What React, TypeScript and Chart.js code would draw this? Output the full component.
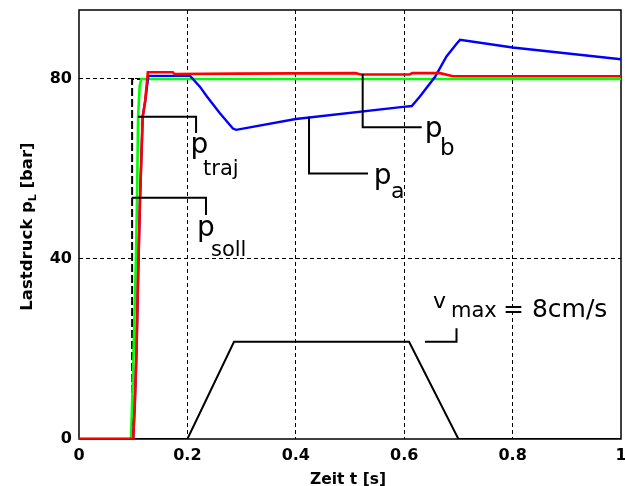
import React, { useEffect, useRef } from 'react';
import { Chart, registerables } from 'chart.js';

Chart.register(...registerables);

// ---- data (time in s, pressure in bar) ----
const pSollT = [0, 0.098, 0.098, 1];
const pSollV = [0, 0, 80, 80];

const pTrajT = [0, 0.096, 0.1, 0.105, 0.107, 0.109, 0.112, 0.115, 1];
const pTrajV = [0, 0, 16, 40, 53, 71.6, 78.5, 80, 80];

const pBT = [0, 0.1, 0.103, 0.106, 0.109, 0.1125, 0.1175, 0.122, 0.127, 0.173, 0.176, 0.29, 0.51, 0.52, 0.61, 0.615, 0.666, 0.69, 1];
const pBV = [0, 0, 8, 19, 36, 53, 71.6, 75, 81.5, 81.5, 81.1, 81.2, 81.3, 81.0, 81.0, 81.3, 81.3, 80.6, 80.6];

const pAT = [0, 0.1, 0.103, 0.106, 0.109, 0.1125, 0.1175, 0.122, 0.128, 0.205, 0.223, 0.236, 0.26, 0.284, 0.29, 0.4, 0.598, 0.614, 0.629, 0.657, 0.678, 0.697, 0.703, 0.8, 1];
const pAV = [0, 0, 8, 19, 36, 53, 71.6, 75, 80.7, 80.7, 78.3, 76.1, 72.4, 69.0, 68.7, 71.1, 73.8, 74.0, 76.1, 80.5, 85.0, 87.9, 88.7, 87.0, 84.4];

const velT = [0, 0.2, 0.286, 0.609, 0.7, 1];
const velV = [0, 0, 21.6, 21.6, 0, 0];

const xTicks = [0, 0.2, 0.4, 0.6, 0.8, 1];
const xTickLabels = ['0', '0.2', '0.4', '0.6', '0.8', '1'];
const yTicks = [0, 40, 80];
const yTickLabels = ['0', '40', '80'];

// ---- annotation leaders (data coordinates) ----
const leaderTraj = [[0.109, 71.6], [0.216, 71.6], [0.216, 68.0]];
const leaderSoll = [[0.0972, 53.6], [0.2343, 53.6], [0.2343, 49.8]];
const leaderA = [[0.4244, 71.6], [0.4244, 59.0], [0.5332, 59.0]];
const leaderB = [[0.5234, 81.1], [0.5234, 69.3], [0.6323, 69.3]];
const leaderV = [[0.6384, 21.6], [0.6965, 21.6], [0.6965, 24.6]];

// label texts: [text, x, y(baseline)]
const labelTraj = [['p', 0.2055, 63.6], ['traj', 0.2288, 58.7]];
const labelSoll = [['p', 0.2175, 45.1], ['soll', 0.2435, 40.7]];
const labelA = [['p', 0.544, 56.7], ['a', 0.5756, 53.6]];
const labelB = [['p', 0.638, 67.2], ['b', 0.6661, 63.1]];
const labelV = [['v', 0.6531, 29.1], ['max', 0.6863, 27.1], ['= 8cm/s', 0.7823, 27.1]];

const xTitle = 'Zeit t [s]';
const yTitleParts = ['Lastdruck p', 'L', ' [bar]'];

const FONT = '"DejaVu Sans", "Liberation Sans", Arial, sans-serif';

const toXY = (t: number[], v: number[]) => t.map((x, i) => ({ x, y: v[i] }));

const annotPlugin = {
  id: 'annot',
  beforeDatasetsDraw(chart: any) {
    const { ctx, chartArea: a } = chart;
    ctx.save();
    ctx.strokeStyle = '#000';
    ctx.lineWidth = 1.5;
    ctx.setLineDash([]);
    ctx.strokeRect(a.left, a.top, a.right - a.left, a.bottom - a.top);
    ctx.restore();
  },
  afterDatasetsDraw(chart: any) {
    const { ctx } = chart;
    const xs = chart.scales.x;
    const ys = chart.scales.y;
    ctx.save();
    ctx.strokeStyle = '#000';
    ctx.lineWidth = 2;
    ctx.setLineDash([]);
    ctx.lineJoin = 'miter';
    [leaderTraj, leaderSoll, leaderA, leaderB, leaderV].forEach((pts) => {
      ctx.beginPath();
      pts.forEach(([x, y], i) => {
        const px = xs.getPixelForValue(x);
        const py = ys.getPixelForValue(y);
        if (i === 0) ctx.moveTo(px, py);
        else ctx.lineTo(px, py);
      });
      ctx.stroke();
    });
    ctx.fillStyle = '#000';
    ctx.textAlign = 'left';
    ctx.textBaseline = 'alphabetic';
    const draw = (parts: any[], sizes: number[]) => {
      parts.forEach(([txt, x, y]: any, i: number) => {
        ctx.font = `${sizes[i]}px ${FONT}`;
        ctx.fillText(txt, xs.getPixelForValue(x), ys.getPixelForValue(y));
      });
    };
    draw(labelTraj, [28, 21]);
    draw(labelSoll, [28, 21]);
    draw(labelA, [28, 22]);
    draw(labelB, [28, 23]);
    draw(labelV, [22, 21, 25]);
    ctx.restore();
  },
  afterDraw(chart: any) {
    const { ctx, chartArea: a } = chart;
    ctx.save();
    ctx.fillStyle = '#000';
    ctx.textBaseline = 'alphabetic';
    // x title
    ctx.font = `bold 15.5px ${FONT}`;
    ctx.textAlign = 'center';
    ctx.fillText(xTitle, (a.left + a.right) / 2 - 2, a.bottom + 45);
    // y title
    ctx.textAlign = 'left';
    const f1 = `bold 16.5px ${FONT}`;
    const f2 = `bold 11px ${FONT}`;
    ctx.font = f1;
    const w0 = ctx.measureText(yTitleParts[0]).width;
    const w2 = ctx.measureText(yTitleParts[2]).width;
    ctx.font = f2;
    const w1 = ctx.measureText(yTitleParts[1]).width;
    const total = w0 + w1 + w2;
    ctx.translate(a.left - 47, (a.top + a.bottom) / 2 + 2);
    ctx.rotate(-Math.PI / 2);
    let x = -total / 2;
    ctx.font = f1;
    ctx.fillText(yTitleParts[0], x, 0);
    x += w0;
    ctx.font = f2;
    ctx.fillText(yTitleParts[1], x, 4);
    x += w1;
    ctx.font = f1;
    ctx.fillText(yTitleParts[2], x, 0);
    ctx.restore();
  },
};

export default function App() {
  const ref = useRef<HTMLCanvasElement | null>(null);
  useEffect(() => {
    if (!ref.current) return;
    const lineDs = (label: string, data: any[], color: string, width: number, dash: number[] = []) => ({
      label,
      data,
      borderColor: color,
      backgroundColor: color,
      borderWidth: width,
      borderDash: dash,
      pointRadius: 0,
      tension: 0,
      fill: false,
    });
    const chart = new Chart(ref.current, {
      type: 'line',
      data: {
        datasets: [
          lineDs('p_b', toXY(pBT, pBV), '#ff0000', 2.6),
          lineDs('p_a', toXY(pAT, pAV), '#0000ff', 2.4),
          lineDs('p_traj', toXY(pTrajT, pTrajV), '#00ff00', 2.6),
          lineDs('p_soll', toXY(pSollT, pSollV), '#000000', 2, [8, 3]),
          lineDs('v', toXY(velT, velV), '#000000', 2),
        ],
      },
      options: {
        animation: false,
        responsive: false,
        devicePixelRatio: 1,
        layout: { padding: { top: 10, right: 4, left: 0, bottom: 0 } },
        plugins: { legend: { display: false }, tooltip: { enabled: false } },
        scales: {
          x: {
            type: 'linear',
            min: 0,
            max: 1,
            afterFit: (s: any) => { s.height = 47; s.paddingLeft = 0; s.paddingRight = 0; },
            afterBuildTicks: (s: any) => { s.ticks = xTicks.map((v) => ({ value: v })); },
            ticks: {
              padding: 7,
              color: '#000',
              font: { family: FONT, size: 16, weight: 'bold' },
              maxRotation: 0,
              callback: (v: any) => {
                const i = xTicks.findIndex((t) => Math.abs(t - v) < 1e-9);
                return i >= 0 ? xTickLabels[i] : '';
              },
            },
            grid: {
              drawTicks: false,
              lineWidth: 1,
              color: (c: any) => {
                const v = c.tick ? c.tick.value : null;
                return v === null || v < 0.01 || v > 0.99 ? 'rgba(0,0,0,0)' : '#000';
              },
            },
            border: { display: false, dash: [4, 3] },
          },
          y: {
            type: 'linear',
            min: 0,
            max: 95.33,
            afterFit: (s: any) => { s.width = 79; s.paddingTop = 0; s.paddingBottom = 0; },
            afterBuildTicks: (s: any) => { s.ticks = yTicks.map((v) => ({ value: v })); },
            ticks: {
              padding: 7,
              color: '#000',
              font: { family: FONT, size: 16, weight: 'bold' },
              callback: (v: any) => {
                const i = yTicks.findIndex((t) => Math.abs(t - v) < 1e-9);
                return i >= 0 ? yTickLabels[i] : '';
              },
            },
            grid: {
              drawTicks: false,
              lineWidth: 1,
              color: (c: any) => {
                const v = c.tick ? c.tick.value : null;
                return v === null || v < 0.5 ? 'rgba(0,0,0,0)' : '#000';
              },
            },
            border: { display: false, dash: [4, 3] },
          },
        },
      },
      plugins: [annotPlugin],
    } as any);
    return () => chart.destroy();
  }, []);
  return (
    <div style={{ position: 'absolute', left: 0, top: 0, width: 625, height: 486, background: '#fff' }}>
      <canvas ref={ref} width={625} height={486} style={{ display: 'block', width: 625, height: 486 }} />
    </div>
  );
}
